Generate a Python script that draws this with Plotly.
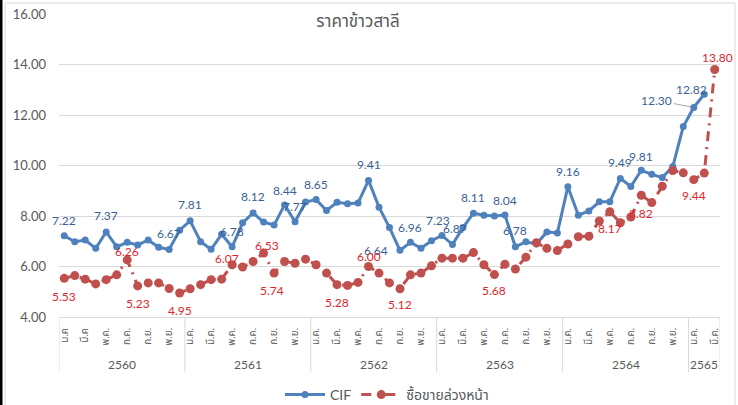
import plotly.graph_objects as go

# ---------------- data ----------------
years = ["2560", "2561", "2562", "2563", "2564", "2565"]
months = ["ม.ค.", "ก.พ.", "มี.ค.", "เม.ย.", "พ.ค.", "มิ.ย.",
          "ก.ค.", "ส.ค.", "ก.ย.", "ต.ค.", "พ.ย.", "ธ.ค."]
months_in_year = [12, 12, 12, 12, 12, 3]
categories = [f"{m} {y}" for y, n in zip(years, months_in_year) for m in months[:n]]

tick_labels = (["ม.ค", "มี.ค", "พ.ค.", "ก.ค.", "ก.ย.", "พ.ย."]
               + ["ม.ค.", "มี.ค.", "พ.ค.", "ก.ค.", "ก.ย.", "พ.ย."] * 4
               + ["ม.ค.", "มี.ค."])

cif = [7.22, 6.98, 7.05, 6.72, 7.37, 6.78, 6.96, 6.85, 7.05, 6.76, 6.67, 7.44,
       7.81, 6.98, 6.68, 7.28, 6.78, 7.73, 8.12, 7.76, 7.64, 8.44, 7.77, 8.55,
       8.65, 8.22, 8.54, 8.49, 8.51, 9.41, 8.35, 7.54, 6.64, 6.96, 6.72, 7.02,
       7.23, 6.87, 7.54, 8.11, 8.03, 8.00, 8.04, 6.78, 6.98, 6.89, 7.37, 7.33,
       9.16, 8.03, 8.20, 8.56, 8.56, 9.49, 9.17, 9.81, 9.65, 9.52, 9.96, 11.54,
       12.30, 12.82]

futures = [5.53, 5.64, 5.50, 5.31, 5.48, 5.67, 6.26, 5.23, 5.35, 5.35, 5.13, 4.95,
           5.12, 5.28, 5.48, 5.50, 6.07, 5.98, 6.20, 6.53, 5.74, 6.20, 6.13, 6.29,
           6.07, 5.74, 5.28, 5.25, 5.37, 6.00, 5.74, 5.35, 5.12, 5.67, 5.74, 6.03,
           6.33, 6.33, 6.33, 6.55, 6.07, 5.68, 6.09, 5.90, 6.37, 6.94, 6.72, 6.63,
           6.89, 7.18, 7.20, 7.80, 8.17, 7.73, 7.96, 8.82, 8.53, 9.18, 9.80, 9.71,
           9.44, 9.70, 13.80]

cif_label_idx = [0, 4, 10, 12, 16, 18, 21, 22, 24, 29, 32, 33, 36, 37, 39, 42, 43,
                 48, 53, 55, 60, 61]
fut_label_idx = [0, 6, 7, 11, 16, 19, 20, 26, 29, 32, 41, 52, 55, 60, 62]

# ---------------- style ----------------
BLUE = "#4F81BD"
BLUE_TXT = "#3A5F94"
RED = "#C0504D"
RED_TXT = "#E0262B"
GRAY = "#595959"
GRID = "#D9D9D9"
FONT = "Lato, 'Noto Sans Thai', 'Noto Sans', 'DejaVu Sans', sans-serif"

W, H = 738, 405
L, R, T, B = 59, 18, 14, 88
PW, PH = W - L - R, H - T - B


def px_x(px):
    return (px - L) / PW


def px_y(py):
    return (H - B - py) / PH


cif_shift = {0: (0, 15), 4: (0, 16), 10: (0, 16), 12: (0, 16), 16: (0, 15),
             18: (0, 16), 21: (0, 14), 22: (0, 15), 24: (0, 15), 29: (0, 16),
             32: (-24, 0), 33: (0, 15), 36: (-4, 15), 37: (3, 16), 39: (0, 16),
             42: (0, 14), 43: (0, 16), 48: (0, 15), 53: (0, 16), 55: (0, 14),
             61: (-13, 5)}
fut_shift = {0: (0, -18), 6: (0, 8), 7: (0, -18), 11: (0, -17), 16: (-5, 6),
             19: (3, 8), 20: (-2, -17), 26: (0, -18), 29: (0, 10), 32: (0, -16),
             41: (0, -16), 52: (0, -17), 55: (0, -18), 60: (0, -16), 62: (3, 12)}

fig = go.Figure()
fig.add_trace(go.Scatter(
    x=categories[:len(cif)], y=cif, name="CIF", mode="lines+markers",
    line=dict(color=BLUE, width=3), marker=dict(color=BLUE, size=7),
))
fig.add_trace(go.Scatter(
    x=categories[:len(futures)], y=futures, name="ซื้อขายล่วงหน้า", mode="lines+markers",
    line=dict(color=RED, width=3, dash="10px,6px,2px,6px"),
    marker=dict(color=RED, size=9),
))

annotations = []
for i in cif_label_idx:
    if i == 60:
        annotations.append(dict(
            x=categories[i], y=cif[i], xref="x", yref="y", text=f"{cif[i]:.2f}",
            showarrow=True, arrowhead=0, arrowwidth=1, arrowcolor="#A6A6A6",
            ax=-37, ay=-7, standoff=3,
            font=dict(family=FONT, size=12, color=BLUE_TXT)))
        continue
    dx, dy = cif_shift[i]
    annotations.append(dict(
        x=categories[i], y=cif[i], xref="x", yref="y", text=f"{cif[i]:.2f}",
        showarrow=False, xshift=dx, yshift=dy,
        font=dict(family=FONT, size=12, color=BLUE_TXT)))
for i in fut_label_idx:
    dx, dy = fut_shift[i]
    annotations.append(dict(
        x=categories[i], y=futures[i], xref="x", yref="y", text=f"{futures[i]:.2f}",
        showarrow=False, xshift=dx, yshift=dy,
        font=dict(family=FONT, size=12, color=RED_TXT)))

# year labels and separators
shapes = []
start = 0
for y, n in zip(years, months_in_year):
    annotations.append(dict(
        x=start + (n - 1) / 2, y=px_y(364), xref="x", yref="paper", text=y,
        showarrow=False, yanchor="middle",
        font=dict(family=FONT, size=12, color=GRAY)))
    shapes.append(dict(type="line", xref="x", yref="paper", x0=start - 0.5,
                       x1=start - 0.5, y0=0, y1=px_y(372),
                       line=dict(color=GRID, width=1)))
    start += n
shapes.append(dict(type="line", xref="x", yref="paper", x0=start - 0.5,
                   x1=start - 0.5, y0=0, y1=px_y(372),
                   line=dict(color=GRID, width=1)))

# chart frame
shapes.append(dict(type="rect", xref="paper", yref="paper",
                   x0=px_x(5), x1=px_x(735), y0=px_y(410), y1=px_y(3),
                   line=dict(color=GRID, width=1), layer="below"))
shapes.append(dict(type="line", xref="paper", yref="paper",
                   x0=px_x(1), x1=px_x(1), y0=px_y(410), y1=px_y(-5),
                   line=dict(color="#000000", width=3)))

fig.update_layout(
    width=W, height=H,
    margin=dict(l=L, r=R, t=T, b=B, autoexpand=False),
    paper_bgcolor="white", plot_bgcolor="white",
    font=dict(family=FONT, color=GRAY),
    title=dict(text="ราคาข้าวสาลี", x=358 / W, xanchor="center",
               y=1 - 21 / H, yanchor="middle", xref="container", yref="container",
               font=dict(family=FONT, size=17, color=GRAY)),
    showlegend=True,
    legend=dict(orientation="h", x=px_x(387), xanchor="center",
                y=px_y(395), yanchor="middle", itemwidth=40,
                font=dict(family=FONT, size=14, color=GRAY),
                bgcolor="rgba(0,0,0,0)"),
    annotations=annotations,
    shapes=shapes,
    xaxis=dict(
        type="category", categoryorder="array", categoryarray=categories,
        range=[-0.5, len(categories) - 0.5],
        tickmode="array", tickvals=categories[::2], ticktext=tick_labels,
        tickangle=-90, tickfont=dict(family=FONT, size=10, color=GRAY),
        showgrid=False, showline=True, linecolor=GRID, linewidth=1,
        ticks="", ticklabelstandoff=6, zeroline=False,
    ),
    yaxis=dict(
        range=[4, 16], tickmode="linear", tick0=4, dtick=2, tickformat=".2f",
        tickfont=dict(family=FONT, size=13, color=GRAY),
        showgrid=True, gridcolor=GRID, gridwidth=1, zeroline=False,
        showline=False, ticks="", ticklabelstandoff=12,
    ),
)

fig.write_html("out.html", config={"displayModeBar": False},
               post_script="document.body.style.margin='0';document.body.style.padding='0';")
